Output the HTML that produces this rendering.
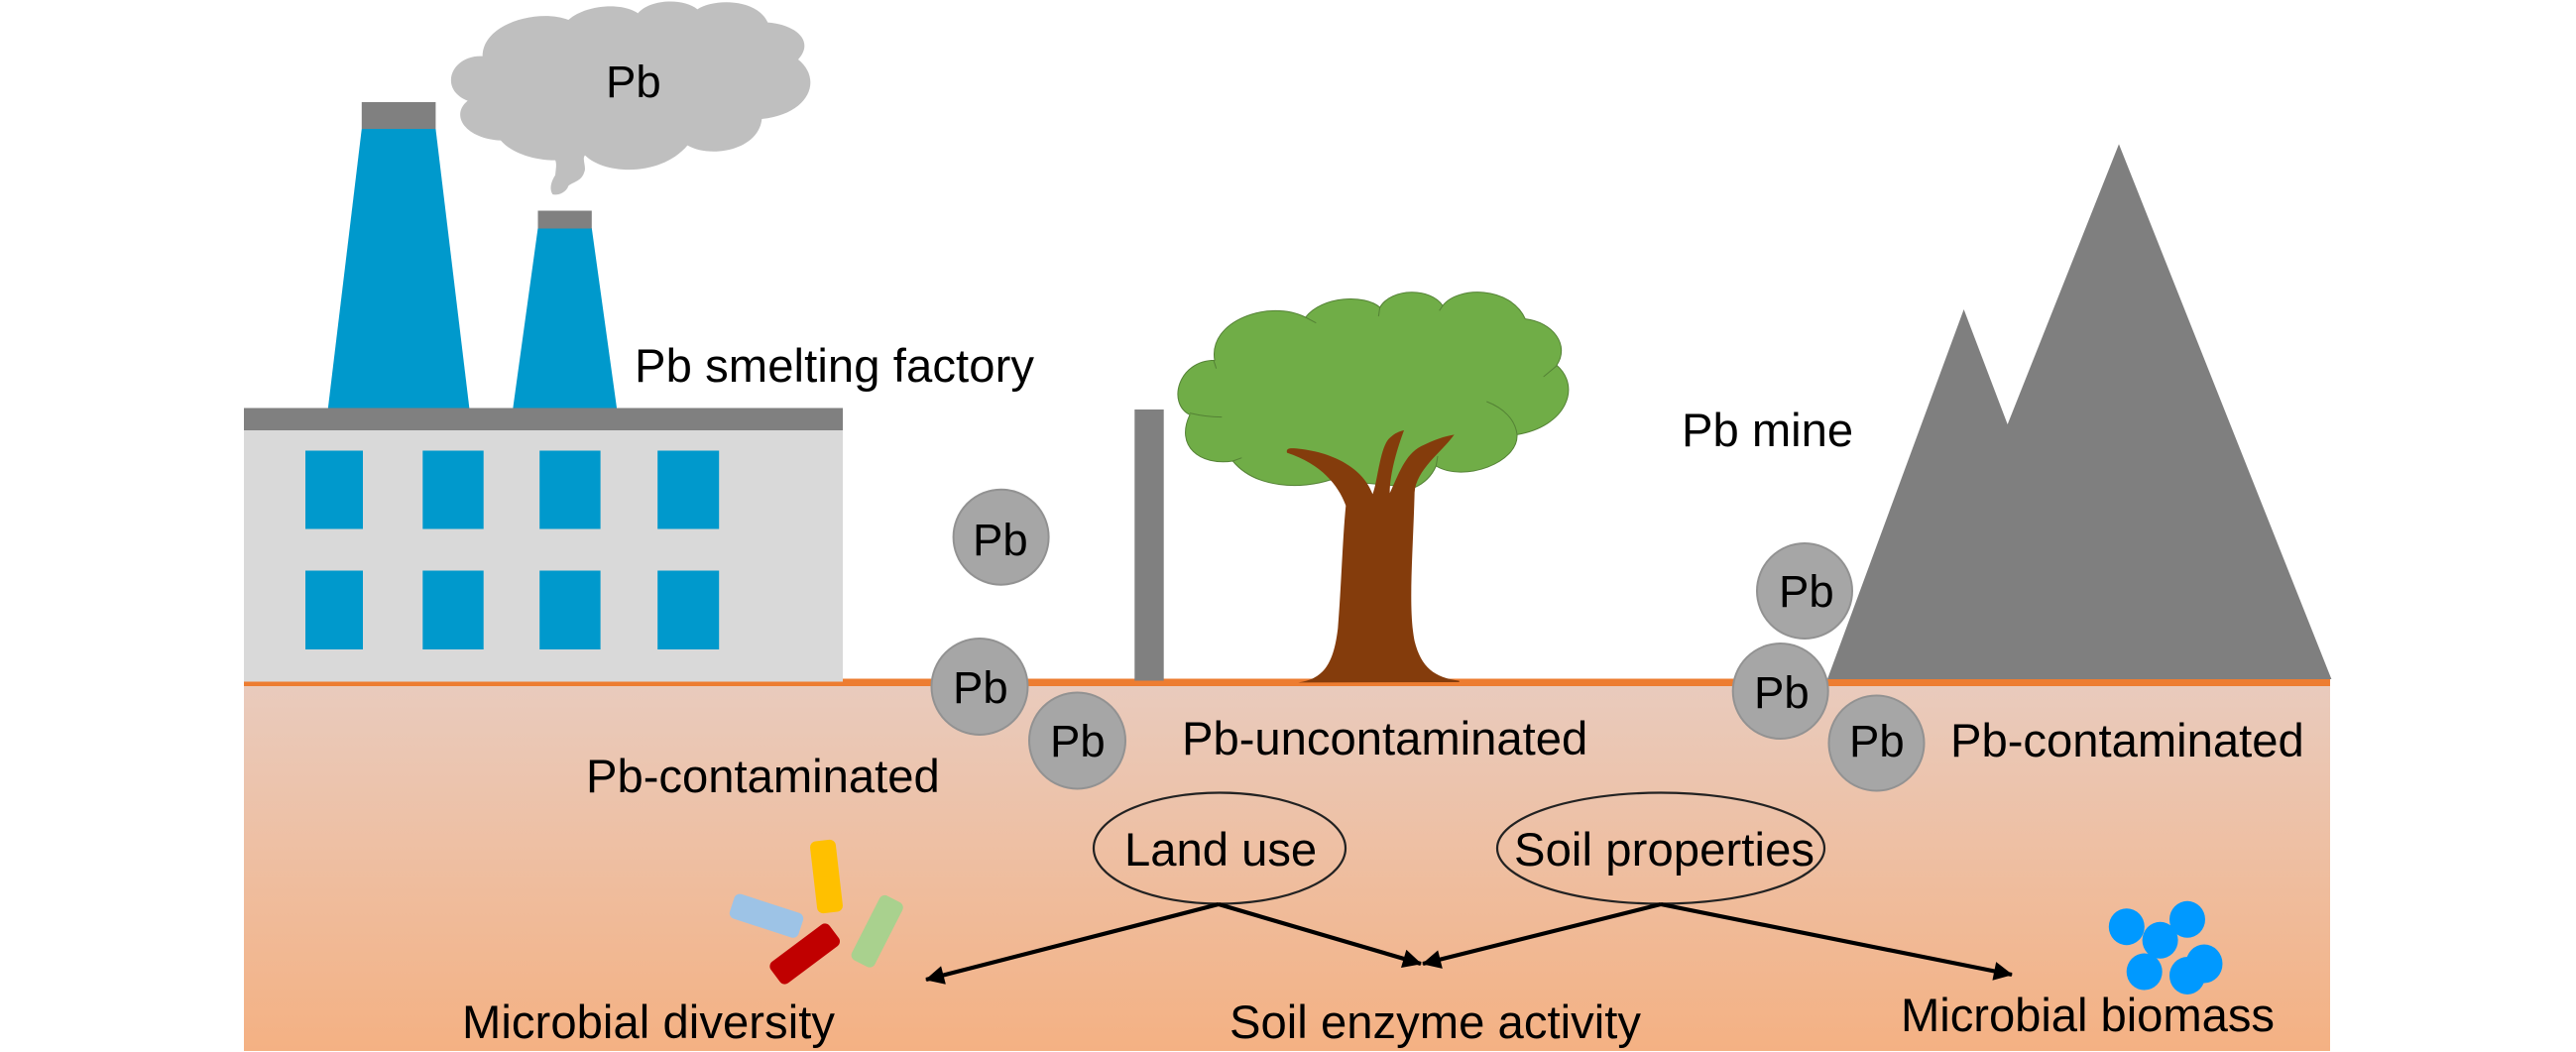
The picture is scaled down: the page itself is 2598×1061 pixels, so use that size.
<!DOCTYPE html>
<html>
<head>
<meta charset="utf-8">
<style>
html,body{margin:0;padding:0;background:#fff;}
svg{display:block;}
text{font-family:"Liberation Sans",Arial,sans-serif;font-size:47.2px;fill:#000;}
text.p{font-size:45.5px;}
</style>
</head>
<body>
<svg xmlns="http://www.w3.org/2000/svg" width="2598" height="1061" viewBox="0 0 2598 1061">
<defs>
<linearGradient id="soil" x1="0" y1="0" x2="0" y2="1">
<stop offset="0" stop-color="#e9cbbd"/>
<stop offset="1" stop-color="#f4b183"/>
</linearGradient>
<marker id="ah" viewBox="0 0 10 10" refX="9.5" refY="5" markerUnits="userSpaceOnUse" markerWidth="20" markerHeight="19" orient="auto">
<path d="M0 0L10 5L0 10Z" fill="#000"/>
</marker>
</defs>

<!-- soil -->
<rect x="246" y="691" width="2104" height="369" fill="url(#soil)"/>
<rect x="246" y="684.5" width="2104" height="7.5" fill="#ed7d31"/>

<!-- cloud -->
<g transform="translate(440 0) scale(.33333)">
<path fill="#bfbfbf" d="M140 170C140 70 310 25 400 60C450 15 560 5 610 40C650 -5 750 -5 790 28C840 -5 970 -5 1003 68C1090 75 1145 125 1095 180C1170 240 1130 345 985 360C975 455 830 480 760 440C680 535 510 530 450 470C440 480 455 505 448 520C440 548 415 550 400 562C392 585 365 592 352 588C340 570 350 545 360 530C362 510 365 495 360 485C290 485 225 460 195 425C90 420 40 350 95 305C5 270 45 165 140 170Z"/>
</g>

<!-- chimneys -->
<polygon points="364.8,130 439.4,130 473.4,412 330.8,412" fill="#0099cc"/>
<rect x="364.8" y="103" width="74.6" height="27" fill="#808080"/>
<polygon points="542.5,230 596.8,230 622.1,412 517.3,412" fill="#0099cc"/>
<rect x="542.5" y="212.5" width="54.3" height="18" fill="#808080"/>

<!-- factory -->
<rect x="246" y="434" width="604" height="253.5" fill="#d9d9d9"/>
<rect x="246" y="411.5" width="604" height="22.5" fill="#808080"/>
<g fill="#0099cc">
<rect x="308" y="454.5" width="58" height="79"/>
<rect x="426.3" y="454.5" width="61.4" height="79"/>
<rect x="544.2" y="454.5" width="61.4" height="79"/>
<rect x="663.2" y="454.5" width="62" height="79"/>
<rect x="308" y="575.5" width="58" height="79.5"/>
<rect x="426.3" y="575.5" width="61.4" height="79.5"/>
<rect x="544.2" y="575.5" width="61.4" height="79.5"/>
<rect x="663.2" y="575.5" width="62" height="79.5"/>
</g>

<!-- post -->
<rect x="1144.3" y="413" width="29.4" height="273.5" fill="#808080"/>

<!-- tree -->
<g transform="translate(1100 260) scale(.33333)">
<path fill="#70ad47" stroke="#548235" stroke-width="3" d="M375 310C355 190 540 125 650 180C700 115 830 110 875 150C910 90 1030 90 1065 145C1110 85 1270 85 1315 185C1400 195 1450 265 1410 325C1485 390 1440 510 1290 535C1295 620 1130 680 1045 630Q1025 675 980 695L725 672C640 700 500 700 430 615C330 630 255 570 300 475C230 440 265 310 375 310Z"/>
<g fill="none" stroke="#548235" stroke-width="3">
<path d="M1198 435C1250 455 1285 490 1290 535"/>
<path d="M1412 325L1370 360"/>
<path d="M300 470Q350 482 397 482"/>
<path d="M430 615L457 605"/>
<path d="M650 180L682 197"/>
<path d="M875 150L871 177"/>
<path d="M1065 145L1055 160"/>
<path d="M372 310L380 335"/>
<path d="M1050 600L1045 630"/>
</g>
<path fill="#843c0c" d="M628 1285C700 1275 735 1235 748 1120C758 1000 762 850 772 750C750 690 700 625 594 590C590 575 605 575 630 578C740 590 825 640 853 715C868 680 875 570 905 545C920 530 935 525 948 522C930 570 905 650 905 712C930 660 950 595 1000 570C1040 550 1070 540 1100 535C1060 590 985 640 980 710C975 900 960 1060 980 1160C1000 1240 1040 1270 1115 1280L1115 1284Z"/>
</g>

<!-- mountain -->
<polygon points="1843,685 1980.6,312 2024.7,428 2137,145.4 2351.4,685" fill="#7f7f7f"/>

<!-- Pb circles -->
<g fill="#a6a6a6" stroke="#929292" stroke-width="2">
<circle cx="1009.6" cy="541.7" r="48"/>
<circle cx="988" cy="692.5" r="48.5"/>
<circle cx="1086.5" cy="747" r="48.5"/>
<circle cx="1820" cy="596" r="48"/>
<circle cx="1795.7" cy="697" r="48"/>
<circle cx="1892.5" cy="749.5" r="48"/>
</g>

<!-- bacteria rods -->
<rect x="-13" y="-36.5" width="26" height="73" rx="6" fill="#ffc000" transform="translate(833.5 884) rotate(-6.6)"/>
<rect x="-36.5" y="-13" width="73" height="26" rx="6" fill="#9dc3e6" transform="translate(773 923.7) rotate(18)"/>
<rect x="-37" y="-13.5" width="74" height="27" rx="6" fill="#c00000" transform="translate(811.7 962) rotate(-36.8)"/>
<rect x="-36.5" y="-13" width="73" height="26" rx="6" fill="#a9d18e" transform="translate(884.7 939.3) rotate(-63)"/>

<!-- blue blobs -->
<g fill="#0099ff">
<ellipse cx="2144.8" cy="934.7" rx="18" ry="18.5"/>
<ellipse cx="2206" cy="927.3" rx="18" ry="18.5"/>
<ellipse cx="2178.6" cy="948.3" rx="18" ry="18.5"/>
<ellipse cx="2162.7" cy="980" rx="18" ry="18.5"/>
<ellipse cx="2223" cy="972" rx="18.5" ry="19.5"/>
<ellipse cx="2206" cy="984" rx="18" ry="19"/>
</g>

<!-- ovals -->
<ellipse cx="1230" cy="855.5" rx="127" ry="56" fill="none" stroke="#222" stroke-width="2.2"/>
<ellipse cx="1675" cy="855.5" rx="165" ry="56" fill="none" stroke="#222" stroke-width="2.2"/>

<!-- arrows -->
<g stroke="#000" stroke-width="4.2" fill="none">
<line x1="1229" y1="912" x2="934" y2="988" marker-end="url(#ah)"/>
<line x1="1229" y1="912" x2="1433" y2="972" marker-end="url(#ah)"/>
<line x1="1675" y1="912" x2="1435" y2="972" marker-end="url(#ah)"/>
<line x1="1675" y1="912" x2="2029" y2="983" marker-end="url(#ah)"/>
</g>

<!-- labels -->
<text class="p" x="611" y="98">Pb</text>
<text x="640" y="385" textLength="403">Pb smelting factory</text>
<text x="1696" y="450">Pb mine</text>
<text class="p" x="981" y="560">Pb</text>
<text class="p" x="961" y="709">Pb</text>
<text class="p" x="1059" y="763">Pb</text>
<text class="p" x="1794" y="612">Pb</text>
<text class="p" x="1769" y="714">Pb</text>
<text class="p" x="1865" y="763">Pb</text>
<text x="591" y="799">Pb-contaminated</text>
<text x="1192" y="761">Pb-uncontaminated</text>
<text x="1967" y="763">Pb-contaminated</text>
<text x="1134" y="873">Land use</text>
<text x="1527" y="873" textLength="303">Soil properties</text>
<text x="466" y="1047" textLength="376">Microbial diversity</text>
<text x="1240" y="1047" textLength="415">Soil enzyme activity</text>
<text x="1917" y="1040" textLength="377">Microbial biomass</text>
</svg>
</body>
</html>
